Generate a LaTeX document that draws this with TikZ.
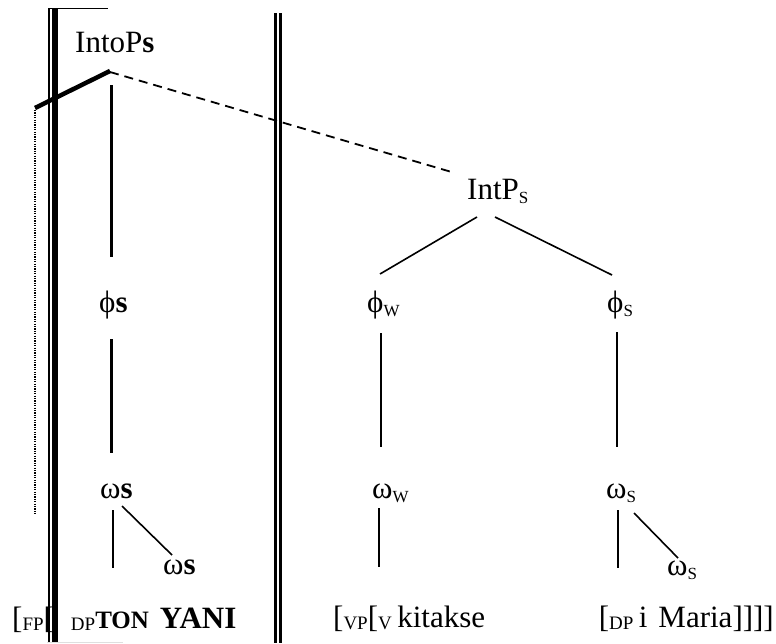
\documentclass[tikz,border=0pt]{standalone}
\usepackage{fontspec}
\setmainfont{Liberation Serif}
\newcommand\tsub[1]{\raisebox{-4pt}{\fontsize{17}{17}\selectfont #1}}
\newcommand\bsub[1]{\raisebox{-2pt}{\fontsize{19}{19}\selectfont #1}}
\begin{document}
\begin{tikzpicture}[x=1pt,y=-1pt,
  lbl/.style={inner sep=0pt,anchor=base west,font=\fontsize{31}{37}\selectfont},
  branch/.style={line width=1.6pt},
  heavy/.style={line width=3.2pt},
  boxline/.style={line width=1.3pt}]
\useasboundingbox (0,0) rectangle (776,643);

% frame of the focused constituent
\draw[boxline] (48.8,8.3) -- (108,8.3);
\draw[boxline] (49,8.3) -- (49,643);
\draw[line width=6pt] (55.3,8) -- (55.3,643);
\draw[gray!25,line width=0.8pt] (47,642.3) -- (123,642.3);

% double divider
\draw[line width=2.4pt] (275.3,13) -- (275.3,643);
\draw[line width=2.4pt] (280.3,13) -- (280.3,643);

% labels
\node[lbl] (ip0) at (75,52) {IntoP\textbf{s}};
\node[lbl] (ip)  at (467,199) {IntP\tsub{S}};
\node[lbl] (f0)  at (99,312) {ϕ\textbf{s}};
\node[lbl] (fw)  at (367,312) {ϕ\tsub{W}};
\node[lbl] (fs)  at (607,312) {ϕ\tsub{S}};
\node[lbl] (w0)  at (100,498) {ω\textbf{s}};
\node[lbl] (w0b) at (163,574) {ω\textbf{s}};
\node[lbl] (ww)  at (372,498) {ω\tsub{W}};
\node[lbl] (ws)  at (606,498) {ω\tsub{S}};
\node[lbl] (wsb) at (667,575) {ω\tsub{S}};
\node[lbl] (bl)  at (12,628) {[\bsub{FP}[\hspace{17pt}\bsub{DP}{\bfseries\fontsize{25}{30}\selectfont TON}\hspace{11pt}\textbf{YANI}};
\node[lbl] (bm)  at (333,627) {[\bsub{VP}[\bsub{V}\hspace{5.5pt}kitakse};
\node[lbl,anchor=base east] (br) at (774,627) {[\bsub{DP}\hspace{5.5pt}i\hspace{11pt}Maria]]]]};

% free ends
\coordinate (tipL) at (35,108);
\coordinate (dotT) at (35,110);
\coordinate (dotB) at (35,515);

% strong intonational phrase
\draw[line width=4.5pt] ([xshift=35pt,yshift=-19pt]ip0.base west) -- (tipL);
\draw[line width=1.8pt,dash pattern=on 9pt off 6pt]
  ([xshift=35pt,yshift=-20pt]ip0.base west) -- ([xshift=-12pt,yshift=26pt]ip.base west);
\draw[line width=1.2pt,dash pattern=on 1.2pt off 1.2pt] (dotT) -- (dotB);
\draw[heavy] ([xshift=36.5pt,yshift=-33pt]ip0.base west) -- ([xshift=12.5pt,yshift=55pt]f0.base west);
\draw[heavy] ([xshift=12.5pt,yshift=-27pt]f0.base west) -- ([xshift=11.5pt,yshift=45pt]w0.base west);
\draw[branch] ([xshift=13pt,yshift=-12pt]w0.base west) -- ([xshift=101pt,yshift=60pt]bl.base west);
\draw[branch] ([xshift=22pt,yshift=-8pt]w0.base west) -- ([xshift=9pt,yshift=19pt]w0b.base west);

% IntP tree
\draw[branch] ([xshift=10pt,yshift=-18pt]ip.base west) -- ([xshift=13pt,yshift=38pt]fw.base west);
\draw[branch] ([xshift=28pt,yshift=-18pt]ip.base west) -- ([xshift=5pt,yshift=37pt]fs.base west);
\draw[branch] ([xshift=14pt,yshift=-21pt]fw.base west) -- ([xshift=9pt,yshift=51pt]ww.base west);
\draw[branch] ([xshift=10pt,yshift=-20pt]fs.base west) -- ([xshift=11pt,yshift=51pt]ws.base west);
\draw[branch] ([xshift=7pt,yshift=-10pt]ww.base west) -- ([xshift=46pt,yshift=60pt]bm.base west);
\draw[branch] ([xshift=12pt,yshift=-12pt]ws.base west) -- ([xshift=-156pt,yshift=59pt]br.base east);
\draw[branch] ([xshift=28pt,yshift=-15pt]ws.base west) -- ([xshift=11pt,yshift=17pt]wsb.base west);
\end{tikzpicture}
\end{document}
